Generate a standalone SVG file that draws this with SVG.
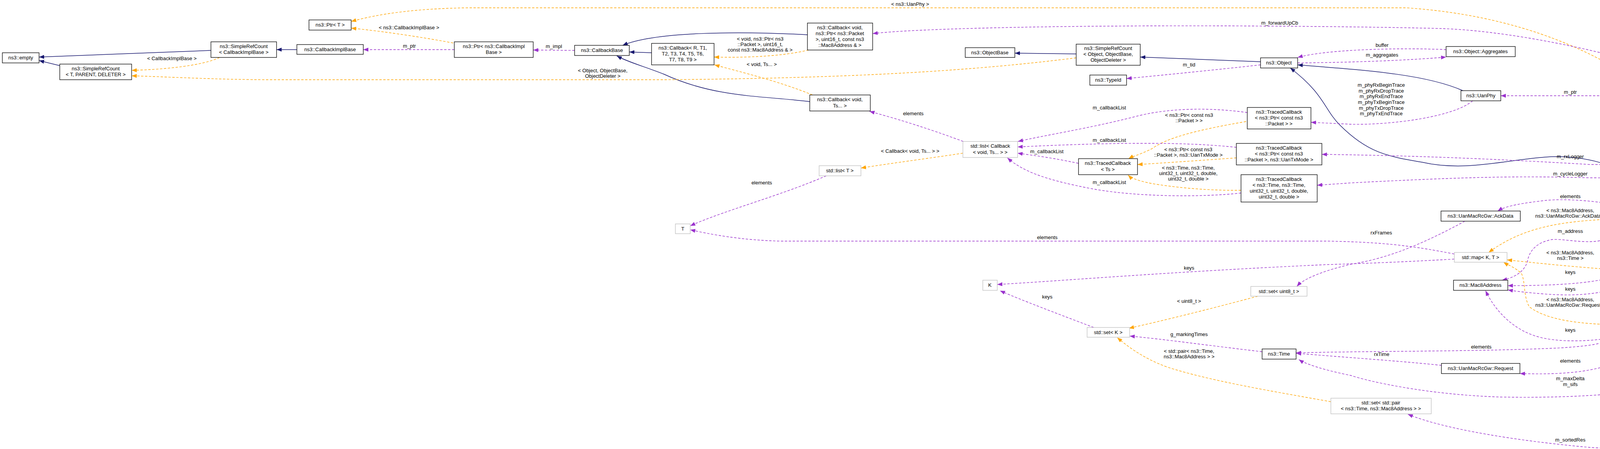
<svg xmlns="http://www.w3.org/2000/svg" width="4659" height="1149" viewBox="0 0 4659 1149">
<defs>
<marker id="an" markerUnits="userSpaceOnUse" markerWidth="14" markerHeight="10" refX="13" refY="5" orient="auto"><path d="M0,0 L13,5 L0,10 z" fill="#191970"/></marker>
<marker id="ap" markerUnits="userSpaceOnUse" markerWidth="14" markerHeight="10" refX="13" refY="5" orient="auto"><path d="M0,0 L13,5 L0,10 z" fill="#9a32cd"/></marker>
<marker id="ao" markerUnits="userSpaceOnUse" markerWidth="14" markerHeight="10" refX="13" refY="5" orient="auto"><path d="M0,0 L13,5 L0,10 z" fill="#ffa500"/></marker>
</defs>
<style>
text{font-family:"Liberation Sans",Arial,sans-serif;font-size:13px;fill:#000}
.n rect{fill:#fff;stroke:#000;stroke-width:1.3}
.g rect{fill:#fff;stroke:#bfbfbf;stroke-width:1.3}
.s rect{fill:#bfbfbf;stroke:#000;stroke-width:1.3}
.n text,.g text,.s text{text-anchor:middle}
.i{fill:none;stroke:#191970;stroke-width:1.5;marker-end:url(#an)}
.p{fill:none;stroke:#9a32cd;stroke-width:1.4;stroke-dasharray:6,4;marker-end:url(#ap)}
.o{fill:none;stroke:#ffa500;stroke-width:1.4;stroke-dasharray:6,4;marker-end:url(#ao)}
.l{text-anchor:middle}
</style>
<rect width="4659" height="1149" fill="#fff"/>
<g id="connectors">
<path class="i" d="M540,129 L100,146"/>
<path class="i" d="M153,168 L100,155"/>
<path class="i" d="M760,127 L708,127"/>
<path class="o" d="M562,147 C520,168 420,178 337,180"/>
<text class="l" x="440" y="154">&lt; CallbackImplBase &gt;</text>
<path class="p" d="M1163,127 L930,127"/>
<text class="l" x="1048" y="122">m_ptr</text>
<path class="o" d="M1160,110 C1080,95 980,80 899,72"/>
<text class="l" x="1047" y="75">&lt; ns3::CallbackImplBase &gt;</text>
<path class="o" d="M4224,232 C4100,140 3900,40 3600,20 L1200,20 C1050,22 960,38 899,55"/>
<text class="l" x="2330" y="15">&lt; ns3::UanPhy &gt;</text>
<path class="i" d="M2067,89 C1900,80 1680,80 1594,116"/>
<path class="i" d="M1668,135 L1611,133"/>
<path class="i" d="M2073,260 C1950,245 1830,250 1700,190 C1650,170 1610,160 1579,143"/>
<path class="o" d="M2070,128 C2000,145 1900,148 1828,146"/>
<text class="l" x="1946" y="104">&lt; void, ns3::Ptr&lt; ns3</text>
<text class="l" x="1946" y="118">::Packet &gt;, uint16_t,</text>
<text class="l" x="1946" y="132">const ns3::Mac8Address &amp; &gt;</text>
<path class="o" d="M2080,243 C2000,210 1900,185 1829,166"/>
<text class="l" x="1950" y="169">&lt; void, Ts... &gt;</text>
<path class="p" d="M1471,129 L1365,128"/>
<text class="l" x="1418" y="123">m_impl</text>
<path class="o" d="M2755,148 C2500,180 2200,200 1700,204 L700,204 C550,204 420,196 337,194"/>
<text class="l" x="1543" y="185">&lt; Object, ObjectBase,</text>
<text class="l" x="1543" y="199">ObjectDeleter &gt;</text>
<path class="i" d="M2755,138 L2598,136"/>
<path class="i" d="M3227,158 L2919,146"/>
<path class="p" d="M3227,166 C3100,180 2950,195 2884,201"/>
<text class="l" x="3044" y="170">m_tid</text>
<path class="p" d="M3702,127 C3600,122 3400,125 3322,147"/>
<text class="l" x="3538" y="120">buffer</text>
<path class="p" d="M3322,161 C3450,160 3600,155 3702,146"/>
<text class="l" x="3538" y="145">m_aggregates</text>
<path class="i" d="M3745,232 C3650,190 3500,180 3322,166"/>
<path class="i" d="M4232,486 C4150,420 4050,395 3956,402 C3850,410 3750,440 3640,415 C3550,400 3500,390 3430,320 C3390,280 3390,240 3303,174"/>
<path class="p" d="M4164,245 L3842,245"/>
<text class="l" x="4020" y="240">m_ptr</text>
<path class="p" d="M3770,258 C3720,300 3560,320 3459,318 L3356,313"/>
<text class="l" x="3536" y="222">m_phyRxBeginTrace</text>
<text class="l" x="3536" y="237">m_phyRxDropTrace</text>
<text class="l" x="3536" y="251">m_phyRxEndTrace</text>
<text class="l" x="3536" y="266">m_phyTxBeginTrace</text>
<text class="l" x="3536" y="281">m_phyTxDropTrace</text>
<text class="l" x="3536" y="295">m_phyTxEndTrace</text>
<path class="p" d="M3193,288 C3100,275 2990,275 2900,300 C2780,330 2680,345 2606,362"/>
<text class="l" x="2840" y="280">m_callbackList</text>
<path class="o" d="M3190,311 C3080,330 2990,350 2950,380 C2920,395 2900,400 2889,406"/>
<text class="l" x="3044" y="299">&lt; ns3::Ptr&lt; const ns3</text>
<text class="l" x="3044" y="313">::Packet &gt; &gt;</text>
<path class="p" d="M3165,377 C3050,365 2900,362 2605,376"/>
<text class="l" x="2840" y="363">m_callbackList</text>
<path class="o" d="M3165,404 C3080,410 2980,417 2912,421"/>
<text class="l" x="3042" y="387">&lt; ns3::Ptr&lt; const ns3</text>
<text class="l" x="3042" y="401">::Packet &gt;, ns3::UanTxMode &gt;</text>
<path class="p" d="M2761,418 C2700,405 2650,398 2605,392"/>
<text class="l" x="2680" y="392">m_callbackList</text>
<path class="p" d="M3177,494 C3080,505 2900,505 2780,480 C2680,460 2620,440 2579,404"/>
<text class="l" x="2840" y="471">m_callbackList</text>
<path class="o" d="M3177,487 C3080,488 3000,478 2950,470 C2910,462 2895,455 2888,448"/>
<text class="l" x="3042" y="434">&lt; ns3::Time, ns3::Time,</text>
<text class="l" x="3042" y="448">uint32_t, uint32_t, double,</text>
<text class="l" x="3042" y="462">uint32_t, double &gt;</text>
<path class="p" d="M2466,362 C2380,330 2300,305 2226,285"/>
<text class="l" x="2338" y="295">elements</text>
<path class="o" d="M2465,392 C2380,405 2300,415 2204,430"/>
<text class="l" x="2330" y="391">&lt; Callback&lt; void, Ts... &gt; &gt;</text>
<path class="p" d="M2115,450 C2000,500 1850,540 1767,578"/>
<text class="l" x="1950" y="472">elements</text>
<path class="p" d="M3723,650 C3620,630 3550,620 3400,617 L2000,617 C1900,615 1820,600 1767,588"/>
<text class="l" x="2681" y="612">elements</text>
<path class="p" d="M3723,663 C3600,670 3500,674 3400,677 C3000,695 2700,720 2553,728"/>
<text class="l" x="3044" y="690">keys</text>
<path class="p" d="M2800,838 C2700,800 2620,770 2560,744"/>
<text class="l" x="2681" y="764">keys</text>
<path class="o" d="M3220,758 C3100,790 2980,820 2890,840"/>
<text class="l" x="3044" y="775">&lt; uint8_t &gt;</text>
<path class="p" d="M3231,900 C3100,885 2980,868 2892,860"/>
<text class="l" x="3044" y="860">g_markingTimes</text>
<path class="o" d="M3407,1028 C3250,1000 3100,975 2990,940 C2920,915 2880,880 2860,864"/>
<text class="l" x="3044" y="903">&lt; std::pair&lt; ns3::Time,</text>
<text class="l" x="3044" y="917">ns3::Mac8Address &gt; &gt;</text>
<path class="p" d="M3750,566 C3650,620 3560,660 3459,676 C3400,690 3340,710 3320,733"/>
<text class="l" x="3536" y="600">rxFrames</text>
<path class="p" d="M3690,935 C3600,925 3450,915 3318,904"/>
<text class="l" x="3537" y="911">rxTime</text>
<path class="p" d="M4222,721 C4190,780 4145,830 4132,856 C4120,875 4100,883 4000,890 C3800,900 3500,898 3318,903"/>
<text class="l" x="3792" y="892">elements</text>
<path class="o" d="M4144,560 C4000,565 3900,580 3811,646"/>
<text class="l" x="4020" y="543">&lt; ns3::Mac8Address,</text>
<text class="l" x="4020" y="557">ns3::UanMacRcGw::AckData &gt;</text>
<path class="p" d="M4188,537 C4120,515 4000,505 3940,515 C3880,522 3850,530 3834,540"/>
<text class="l" x="4020" y="507">elements</text>
<path class="p" d="M4230,577 C4200,640 4170,690 4140,705 C4080,728 3950,731 3860,731"/>
<text class="l" x="4020" y="701">keys</text>
<path class="p" d="M4186,720 C4120,750 4050,760 3950,752 C3900,748 3880,745 3860,742"/>
<text class="l" x="4020" y="744">keys</text>
<path class="p" d="M4187,852 C4120,870 4020,880 3950,865 C3880,850 3830,800 3803,744"/>
<text class="l" x="4020" y="849">keys</text>
<path class="o" d="M4149,691 C4050,685 3950,675 3858,665"/>
<text class="l" x="4020" y="651">&lt; ns3::Mac8Address,</text>
<text class="l" x="4020" y="665">ns3::Time &gt;</text>
<path class="o" d="M4145,831 C4050,830 3960,820 3915,785 C3900,760 3905,720 3895,700 C3880,685 3860,678 3849,671"/>
<text class="l" x="4020" y="771">&lt; ns3::Mac8Address,</text>
<text class="l" x="4020" y="785">ns3::UanMacRcGw::Request &gt;</text>
<path class="p" d="M4236,852 C4210,900 4150,935 4050,950 C3990,958 3940,957 3891,956"/>
<text class="l" x="4020" y="928">elements</text>
<path class="i" d="M4510,522 L4308,505"/>
<path class="p" d="M4510,537 L4367,551"/>
<text class="l" x="4439" y="535">m_ackData</text>
<path class="p" d="M4556,542 C4480,590 4360,640 4303,681"/>
<text class="l" x="4439" y="576">m_propDelay</text>
<path class="p" d="M4570,542 C4500,650 4350,750 4293,812"/>
<text class="l" x="4439" y="641">m_requests</text>
<path class="p" d="M4590,542 C4560,700 4470,930 4377,963 C4250,1005 4050,1020 3842,1016 C3650,1010 3500,975 3459,961 C3380,945 3340,930 3325,920"/>
<text class="l" x="4020" y="973">m_maxDelta</text>
<text class="l" x="4020" y="988">m_sifs</text>
<path class="p" d="M4610,542 C4600,800 4530,1010 4400,1100 C4300,1145 4150,1150 4071,1145 C3900,1130 3700,1100 3604,1060"/>
<text class="l" x="4020" y="1130">m_sortedRes</text>
<path class="p" d="M4575,516 C4540,440 4500,350 4446,329 C4380,290 4340,270 4312,258"/>
<text class="l" x="4439" y="287">m_phy</text>
<path class="p" d="M4582,516 C4560,420 4520,260 4416,230 C4200,150 3900,80 3689,73 C3500,68 3000,62 2600,70 C2450,73 2300,78 2234,86"/>
<text class="l" x="3276" y="63">m_forwardUpCb</text>
<path class="p" d="M4540,516 C4500,490 4470,465 4446,455 C4300,430 4150,420 4071,421 C3800,405 3600,398 3384,395"/>
<text class="l" x="4020" y="405">m_rxLogger</text>
<path class="p" d="M4530,516 C4480,495 4450,485 4416,482 C4300,460 4150,455 4071,455 C3900,450 3765,452 3459,468 L3372,474"/>
<text class="l" x="4020" y="449">m_cycleLogger</text>
<path class="p" d="M4203,499 C4150,505 4132,520 4132,555 C4132,590 4120,610 4100,615 C4060,625 4000,610 3973,613 C3935,620 3915,640 3910,670 C3900,700 3870,712 3845,717"/>
<text class="l" x="4020" y="596">m_address</text>
</g>
<g id="n_empty" class="n"><rect x="6" y="135" width="94" height="26"/><text x="53" y="152">ns3::empty</text></g>
<g id="n_src_tpd" class="n"><rect x="153" y="164" width="184" height="40"/><text x="245" y="180">ns3::SimpleRefCount</text><text x="245" y="195">&lt; T, PARENT, DELETER &gt;</text></g>
<g id="n_src_cib" class="n"><rect x="540" y="107" width="168" height="40"/><text x="624" y="123">ns3::SimpleRefCount</text><text x="624" y="138">&lt; CallbackImplBase &gt;</text></g>
<g id="n_cib" class="n"><rect x="760" y="114" width="170" height="25"/><text x="845" y="131">ns3::CallbackImplBase</text></g>
<g id="n_ptrT" class="n"><rect x="791" y="51" width="108" height="26"/><text x="845" y="68">ns3::Ptr&lt; T &gt;</text></g>
<g id="n_ptrcib" class="n"><rect x="1163" y="107" width="202" height="40"/><text x="1264" y="123">ns3::Ptr&lt; ns3::CallbackImpl</text><text x="1264" y="138">Base &gt;</text></g>
<g id="n_cbbase" class="n"><rect x="1471" y="116" width="140" height="26"/><text x="1541" y="133">ns3::CallbackBase</text></g>
<g id="n_cbR" class="n"><rect x="1668" y="111" width="160" height="55"/><text x="1748" y="127">ns3::Callback&lt; R, T1,</text><text x="1748" y="142">T2, T3, T4, T5, T6,</text><text x="1748" y="157">T7, T8, T9 &gt;</text></g>
<g id="n_cbPkt" class="n"><rect x="2067" y="59" width="167" height="69"/><text x="2150" y="75">ns3::Callback&lt; void,</text><text x="2150" y="90">ns3::Ptr&lt; ns3::Packet</text><text x="2150" y="105">&gt;, uint16_t, const ns3</text><text x="2150" y="120">::Mac8Address &amp; &gt;</text></g>
<g id="n_cbTs" class="n"><rect x="2073" y="243" width="155" height="41"/><text x="2150" y="259">ns3::Callback&lt; void,</text><text x="2150" y="275">Ts... &gt;</text></g>
<g id="n_listT" class="g"><rect x="2097" y="424" width="107" height="26"/><text x="2150" y="441">std::list&lt; T &gt;</text></g>
<g id="n_T" class="g"><rect x="1729" y="573" width="38" height="25"/><text x="1748" y="590">T</text></g>
<g id="n_objbase" class="n"><rect x="2471" y="122" width="127" height="25"/><text x="2534" y="139">ns3::ObjectBase</text></g>
<g id="n_srcobj" class="n"><rect x="2755" y="113" width="164" height="54"/><text x="2837" y="128">ns3::SimpleRefCount</text><text x="2837" y="143">&lt; Object, ObjectBase,</text><text x="2837" y="158">ObjectDeleter &gt;</text></g>
<g id="n_typeid" class="n"><rect x="2790" y="192" width="94" height="26"/><text x="2837" y="209">ns3::TypeId</text></g>
<g id="n_object" class="n"><rect x="3227" y="148" width="95" height="26"/><text x="3274" y="165">ns3::Object</text></g>
<g id="n_listcb" class="g"><rect x="2465" y="362" width="140" height="41"/><text x="2535" y="378">std::list&lt; Callback</text><text x="2535" y="394">&lt; void, Ts... &gt; &gt;</text></g>
<g id="n_tcTs" class="n"><rect x="2761" y="406" width="151" height="41"/><text x="2836" y="422">ns3::TracedCallback</text><text x="2836" y="438">&lt; Ts &gt;</text></g>
<g id="n_tcPkt" class="n"><rect x="3193" y="275" width="163" height="55"/><text x="3274" y="291">ns3::TracedCallback</text><text x="3274" y="306">&lt; ns3::Ptr&lt; const ns3</text><text x="3274" y="321">::Packet &gt; &gt;</text></g>
<g id="n_tcTx" class="n"><rect x="3165" y="367" width="219" height="55"/><text x="3274" y="383">ns3::TracedCallback</text><text x="3274" y="398">&lt; ns3::Ptr&lt; const ns3</text><text x="3274" y="413">::Packet &gt;, ns3::UanTxMode &gt;</text></g>
<g id="n_tcTime" class="n"><rect x="3177" y="447" width="195" height="70"/><text x="3274" y="463">ns3::TracedCallback</text><text x="3274" y="478">&lt; ns3::Time, ns3::Time,</text><text x="3274" y="493">uint32_t, uint32_t, double,</text><text x="3274" y="508">uint32_t, double &gt;</text></g>
<g id="n_aggr" class="n"><rect x="3702" y="119" width="177" height="26"/><text x="3790" y="136">ns3::Object::Aggregates</text></g>
<g id="n_uanphy" class="n"><rect x="3740" y="232" width="102" height="26"/><text x="3791" y="249">ns3::UanPhy</text></g>
<g id="n_ptrphy" class="n"><rect x="4164" y="232" width="183" height="26"/><text x="4255" y="249">ns3::Ptr&lt; ns3::UanPhy &gt;</text></g>
<g id="n_uanmac" class="n"><rect x="4203" y="486" width="105" height="25"/><text x="4255" y="503">ns3::UanMac</text></g>
<g id="n_gw" class="s"><rect x="4510" y="516" width="142" height="26"/><text x="4581" y="533">ns3::UanMacRcGw</text></g>
<g id="n_ackdata" class="n"><rect x="3689" y="540" width="203" height="26"/><text x="3790" y="557">ns3::UanMacRcGw::AckData</text></g>
<g id="n_mapAck" class="g"><rect x="4144" y="537" width="223" height="40"/><text x="4255" y="553">std::map&lt; ns3::Mac8Address,</text><text x="4255" y="568">ns3::UanMacRcGw::AckData &gt;</text></g>
<g id="n_K" class="g"><rect x="2516" y="717" width="37" height="26"/><text x="2534" y="734">K</text></g>
<g id="n_setU8" class="g"><rect x="3202" y="733" width="144" height="25"/><text x="3274" y="750">std::set&lt; uint8_t &gt;</text></g>
<g id="n_setK" class="g"><rect x="2783" y="838" width="109" height="25"/><text x="2837" y="855">std::set&lt; K &gt;</text></g>
<g id="n_time" class="n"><rect x="3231" y="893" width="87" height="26"/><text x="3274" y="910">ns3::Time</text></g>
<g id="n_setPair" class="g"><rect x="3407" y="1019" width="257" height="40"/><text x="3535" y="1035">std::set&lt; std::pair</text><text x="3535" y="1050">&lt; ns3::Time, ns3::Mac8Address &gt; &gt;</text></g>
<g id="n_mapKT" class="g"><rect x="3723" y="646" width="135" height="25"/><text x="3790" y="663">std::map&lt; K, T &gt;</text></g>
<g id="n_mac8" class="n"><rect x="3721" y="717" width="139" height="26"/><text x="3790" y="734">ns3::Mac8Address</text></g>
<g id="n_mapTime" class="g"><rect x="4149" y="681" width="214" height="40"/><text x="4256" y="697">std::map&lt; ns3::Mac8Address,</text><text x="4256" y="712">ns3::Time &gt;</text></g>
<g id="n_mapReq" class="g"><rect x="4145" y="812" width="220" height="40"/><text x="4255" y="828">std::map&lt; ns3::Mac8Address,</text><text x="4255" y="843">ns3::UanMacRcGw::Request &gt;</text></g>
<g id="n_req" class="n"><rect x="3690" y="930" width="201" height="26"/><text x="3790" y="947">ns3::UanMacRcGw::Request</text></g>
</svg>
